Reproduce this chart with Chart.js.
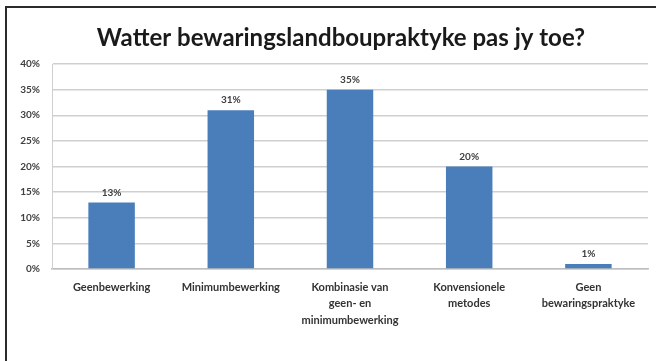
<!DOCTYPE html>
<html>
<head>
<meta charset="utf-8">
<script src="https://cdn.jsdelivr.net/npm/chart.js@4"></script>
<style>
  html, body { margin: 0; padding: 0; background: #fff; }
  #wrap { position: relative; width: 656px; height: 361px; }
  #frame { position: absolute; left: 5px; top: 6px; right: 0; bottom: 0;
           border-left: 2px solid #2b2b2b; border-top: 2px solid #2b2b2b; }
  canvas { position: absolute; left: 0; top: 0; }
</style>
</head>
<body>
<div id="wrap">
  <div id="frame"></div>
  <canvas id="graph" width="656" height="361"></canvas>
</div>
<script>
// DATA
let titleText = 'Watter bewaringslandboupraktyke pas jy toe?';
let categories = [
  'Geenbewerking',
  'Minimumbewerking',
  ['Kombinasie van', 'geen- en', 'minimumbewerking'],
  ['Konvensionele', 'metodes'],
  ['Geen', 'bewaringspraktyke']
];
let percentages = [13, 31, 35, 20, 1];
let yTicks = [0, 5, 10, 15, 20, 25, 30, 35, 40];

let fontName = 'Lato, "Liberation Sans", sans-serif';

// title drawn by hand, a little right of the canvas centre
let headTitle = {
  id: 'headTitle',
  afterDraw(chart){
    let ctx = chart.ctx;
    ctx.save();
    ctx.font = 'bold 24px ' + fontName;
    ctx.fillStyle = '#1a1a1a';
    ctx.textAlign = 'center';
    ctx.textBaseline = 'middle';
    ctx.fillText(titleText, chart.width / 2 + 13, 38);
    ctx.restore();
  }
};

// value labels over each bar
let barLabels = {
  id: 'barLabels',
  afterDatasetsDraw(chart){
    let ctx = chart.ctx;
    let meta = chart.getDatasetMeta(0);
    ctx.save();
    ctx.font = 'bold 10px ' + fontName;
    ctx.fillStyle = '#404040';
    ctx.textAlign = 'center';
    ctx.textBaseline = 'bottom';
    meta.data.forEach((bar, i) => {
      ctx.fillText(percentages[i] + '%', bar.x, bar.y - 5);
    });
    ctx.restore();
  }
};

let ctx = document.getElementById('graph').getContext('2d');
let graph = new Chart(ctx, {
  type: 'bar',
  data: {
    labels: categories,
    datasets: [{
      data: percentages,
      backgroundColor: '#4a7ebb',
      borderWidth: 0,
      categoryPercentage: 1,
      barPercentage: 0.39
    }]
  },
  options: {
    responsive: false,
    animation: false,
    layout: { padding: { left: 12, right: 8, top: 64, bottom: 0 } },
    plugins: {
      legend: { display: false },
      tooltip: { enabled: false },
      title: { display: false }
    },
    scales: {
      x: {
        grid: { display: false, drawTicks: false },
        border: { display: true, color: '#bdbdbd', width: 1.5 },
        ticks: {
          color: '#333',
          padding: 10,
          maxRotation: 0,
          autoSkip: false,
          font: { family: fontName, size: 11, weight: 'bold', lineHeight: 1.5 }
        },
        afterFit(scale){ scale.height = 92; }
      },
      y: {
        min: 0,
        max: 40,
        afterBuildTicks(scale){ scale.ticks = yTicks.map(v => ({ value: v })); },
        grid: { color: '#cfcfcf', lineWidth: 1.5, drawTicks: false },
        border: { display: true, color: '#cfcfcf', width: 1 },
        ticks: {
          color: '#404040',
          padding: 12,
          font: { family: fontName, size: 10, weight: 'bold' },
          callback: v => v + '%'
        },
        afterFit(scale){ scale.width = 40; }
      }
    }
  },
  plugins: [barLabels, headTitle]
});
</script>
</body>
</html>
